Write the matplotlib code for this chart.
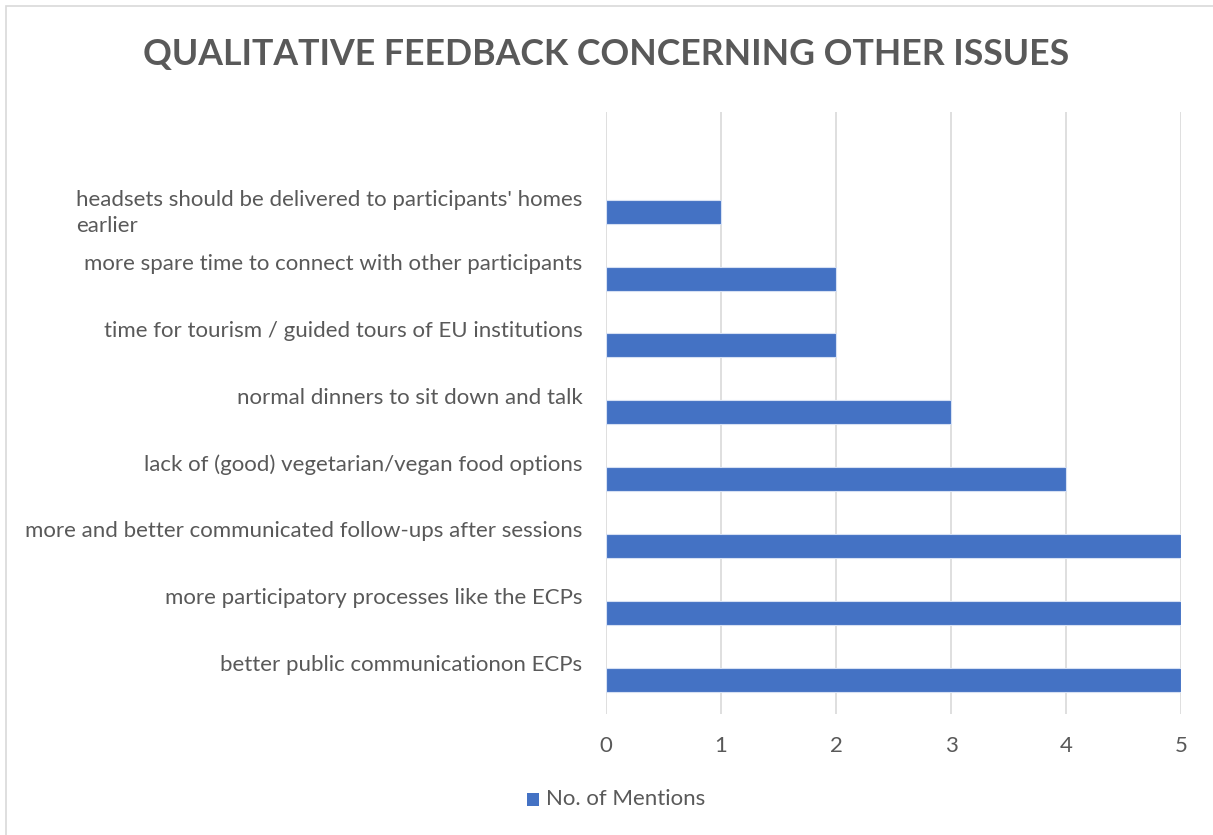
import matplotlib
matplotlib.use("Agg")
import matplotlib.pyplot as plt
from matplotlib.patches import Rectangle

categories = [
    "better public communicationon ECPs",
    "more participatory processes like the ECPs",
    "more and better communicated follow-ups after sessions",
    "lack of (good) vegetarian/vegan food options",
    "normal dinners to sit down and talk",
    "time for tourism / guided tours of EU institutions",
    "more spare time to connect with other participants",
    "headsets should be delivered to participants' homes\nearlier",
]
values = [5, 5, 5, 4, 3, 2, 2, 1]
xticks = [0, 1, 2, 3, 4, 5]
series_name = "No. of Mentions"
title = "QUALITATIVE FEEDBACK CONCERNING OTHER ISSUES"

W, H = 1213, 835
fig = plt.figure(figsize=(W / 100, H / 100), dpi=100)
plt.rcParams['font.family'] = ['Lato', 'DejaVu Sans']
gray = "#595959"
bar_color = "#4472C4"

# figure border
fig.patches.append(Rectangle((6 / W, -0.01), 1.02, 1 - 6 / H + 0.01,
                             transform=fig.transFigure, fill=False,
                             edgecolor="#D9D9D9", linewidth=1.2))

left, right, top, bottom = 606, 1181, 112, 714
ax = fig.add_axes([left / W, 1 - bottom / H, (right - left) / W, (bottom - top) / H])

ypos = list(range(len(categories)))
ax.barh(ypos, values, height=0.36, color=bar_color, edgecolor="#D6E0F3",
        linewidth=0.8, zorder=3)

ax.set_xlim(0, 5)
ax.set_ylim(-0.51, 8.49)
ax.set_xticks(xticks)
ax.set_xticklabels([str(t) for t in xticks])
ax.grid(axis='x', color="#D9D9D9", linewidth=1.2, zorder=0)
for s in ax.spines.values():
    s.set_visible(False)
ax.tick_params(axis='x', length=0, pad=16, labelsize=16, labelcolor=gray)

# category labels (slightly above bar centres, as in the original)
label_offsets = [0.25] * (len(categories) - 1) + [0.05]
ax.set_yticks([p + o for p, o in zip(ypos, label_offsets)])
ax.set_yticklabels(categories, multialignment='left', linespacing=1.35)
ax.tick_params(axis='y', length=0, pad=17, labelsize=16, labelcolor=gray)

fig.text(0.5, 1 - 54 / H, title, ha='center', va='center', fontsize=25.7,
         fontweight='bold', color=gray)

# legend
fig.patches.append(Rectangle((527 / W, 1 - 806 / H), 12 / W, 13 / H,
                             transform=fig.transFigure, facecolor=bar_color,
                             edgecolor='none'))
fig.text(546 / W, 1 - 799 / H, series_name, ha='left', va='center',
         fontsize=16, color=gray)

fig.savefig("out.png", dpi=100)
